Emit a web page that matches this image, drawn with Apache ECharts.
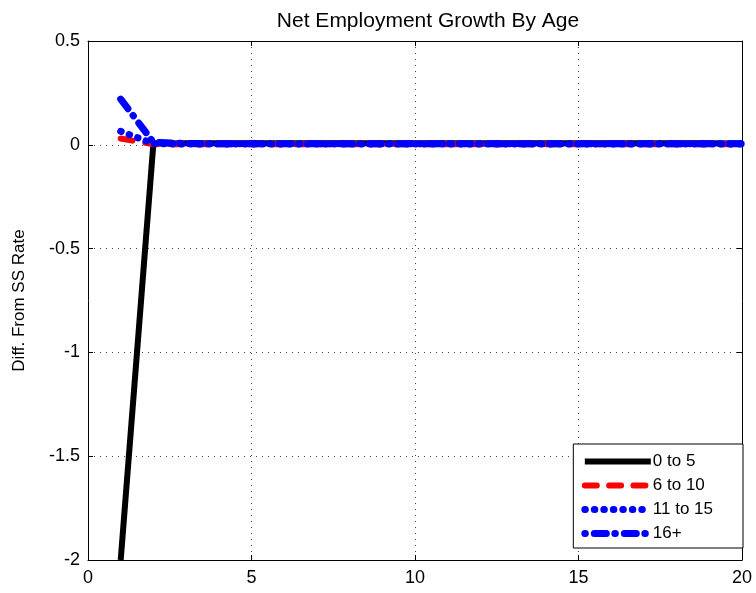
<!DOCTYPE html>
<html>
<head>
<meta charset="utf-8">
<script src="https://cdn.jsdelivr.net/npm/echarts@6/dist/echarts.min.js"></script>
<style>html,body{margin:0;padding:0;background:#fff;}#c{width:756px;height:593px;}</style>
</head>
<body>
<div id="c"></div>
<script>
var periods = [1,2,3,4,5,6,7,8,9,10,11,12,13,14,15,16,17,18,19,20];
var age0to5 = [-2.0,0.006,0.007,0.007,0.007,0.007,0.007,0.007,0.007,0.007,0.007,0.007,0.007,0.007,0.007,0.007,0.007,0.007,0.007,0.006];
var age6to10 = [0.03,0.003,0.003,0.003,0.003,0.003,0.003,0.003,0.003,0.003,0.003,0.003,0.003,0.003,0.003,0.003,0.003,0.003,0.003,0.003];
var age11to15 = [0.065,0.005,0.004,0.004,0.004,0.004,0.004,0.004,0.004,0.004,0.004,0.004,0.004,0.004,0.004,0.004,0.004,0.004,0.004,0.004];
var age16plus = [0.22,0.012,0.006,0.005,0.005,0.005,0.005,0.005,0.005,0.005,0.005,0.005,0.005,0.005,0.005,0.005,0.005,0.005,0.005,0.005];
var seriesNames = ['0 to 5','6 to 10','11 to 15','16+'];
var xTicks = {min:0,max:20,interval:5};
var yTicks = {min:-2,max:0.5,interval:0.5};

function pairs(v){ return periods.map(function(x,i){return [x,v[i]];}); }
var font = 'Liberation Sans, Arial, sans-serif';
var gridLine = {show:true, lineStyle:{color:'#444', type:[1,5], width:1}};
var chart = echarts.init(document.getElementById('c'), null, {renderer:'canvas'});
chart.setOption({
  animation:false,
  backgroundColor:'#fff',
  title:{text:'Net Employment Growth By Age', left:423, textAlign:'center', top:6,
    textStyle:{fontFamily:font, fontSize:21, fontWeight:'normal', color:'#000'}},
  grid:{left:88, right:14, top:41, bottom:33},
  legend:{orient:'vertical', right:13, bottom:45,
    backgroundColor:'#fff', borderColor:'#000', borderWidth:1,
    padding:[9,30,6,8], itemGap:7, itemWidth:66, itemHeight:14,
    itemStyle:{opacity:0},
    lineStyle:{width:'inherit', type:'inherit', cap:'inherit'},
    textStyle:{fontFamily:font, fontSize:17, color:'#000', padding:[0,0,0,-3]},
    data:[
      {name:seriesNames[0]},
      {name:seriesNames[1], lineStyle:{type:[12,12.3], cap:'round', width:6}},
      {name:seriesNames[2], lineStyle:{type:[0.5,9], cap:'round', width:7}},
      {name:seriesNames[3], lineStyle:{type:[0.5,9,12,8.5], cap:'round', width:7}}
    ]},
  xAxis:[{type:'value', min:xTicks.min, max:xTicks.max, interval:xTicks.interval,
    axisLine:{show:true, onZero:false, lineStyle:{color:'#000'}},
    axisTick:{show:true, inside:true, length:5, lineStyle:{color:'#000'}},
    axisLabel:{fontFamily:font, fontSize:18, color:'#000', margin:9},
    splitLine:gridLine},
   {type:'value', position:'top', min:xTicks.min, max:xTicks.max, interval:xTicks.interval,
    axisLine:{show:true, onZero:false, lineStyle:{color:'#000'}},
    axisTick:{show:true, inside:true, length:5, lineStyle:{color:'#000'}},
    axisLabel:{show:false}, splitLine:{show:false}}],
  yAxis:[{type:'value', min:yTicks.min, max:yTicks.max, interval:yTicks.interval,
    name:'Diff. From SS Rate', nameLocation:'middle', nameGap:60,
    nameTextStyle:{fontFamily:font, fontSize:17, color:'#000'},
    axisLine:{show:true, onZero:false, lineStyle:{color:'#000'}},
    axisTick:{show:true, inside:true, length:5, lineStyle:{color:'#000'}},
    axisLabel:{fontFamily:font, fontSize:18, color:'#000', margin:8},
    splitLine:gridLine},
   {type:'value', position:'right', min:yTicks.min, max:yTicks.max, interval:yTicks.interval,
    axisLine:{show:true, onZero:false, lineStyle:{color:'#000'}},
    axisTick:{show:true, inside:true, length:5, lineStyle:{color:'#000'}},
    axisLabel:{show:false}, splitLine:{show:false}}],
  series:[
    {name:seriesNames[0], type:'line', data:pairs(age0to5), symbol:'none', color:'#000',
      lineStyle:{color:'#000', width:6}},
    {name:seriesNames[1], type:'line', data:pairs(age6to10), symbol:'none', color:'#f00',
      lineStyle:{color:'#f00', width:6, type:[12,13], cap:'round'}},
    {name:seriesNames[2], type:'line', data:pairs(age11to15), symbol:'none', color:'#00f',
      lineStyle:{color:'#00f', width:7, type:[0.5,8.5], cap:'round'}},
    {name:seriesNames[3], type:'line', data:pairs(age16plus), symbol:'none', color:'#00f',
      lineStyle:{color:'#00f', width:7, type:[12,8.5,0.5,9], cap:'round'}}
  ]
});
</script>
</body>
</html>
